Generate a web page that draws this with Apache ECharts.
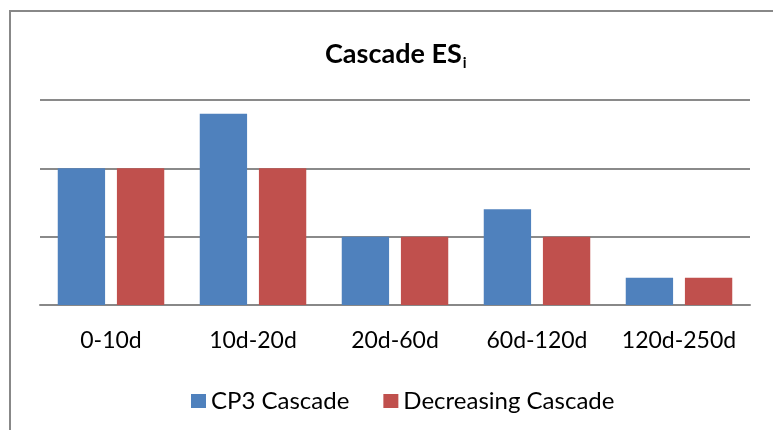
<!DOCTYPE html>
<html>
<head>
<meta charset="utf-8">
<script src="https://cdn.jsdelivr.net/npm/echarts@6/dist/echarts.min.js"></script>
<style>
  html,body{margin:0;padding:0;background:#fff;}
  #chart{width:773px;height:430px;}
</style>
</head>
<body>
<div id="chart"></div>
<script>
// data
var categories = ["0-10d", "10d-20d", "20d-60d", "60d-120d", "120d-250d"];
var cp3Cascade = [2, 2.8, 1, 1.4, 0.4];
var decreasingCascade = [2, 2, 1, 1, 0.4];

var myChart = echarts.init(document.getElementById("chart"));
myChart.setOption({
  animation: false,
  backgroundColor: "#fff",
  textStyle: { fontFamily: "Lato" },
  title: {
    text: "{a|Cascade ES}{b|i}",
    left: 320,
    top: 33,
    textStyle: {
      rich: {
        a: { fontFamily: "Lato", fontWeight: "bold", fontSize: 27, color: "#000" },
        b: { fontFamily: "Lato", fontWeight: "bold", fontSize: 15, color: "#000", padding: [18, 0, 0, 1] }
      }
    }
  },
  legend: {
    left: 186,
    top: 384,
    itemWidth: 15,
    itemHeight: 14,
    itemGap: 34,
    icon: "rect",
    textStyle: { fontFamily: "Lato", fontSize: 24, color: "#000" },
    data: ["CP3 Cascade", "Decreasing Cascade"]
  },
  grid: {
    left: 40,
    right: 23,
    top: 100,
    bottom: 125
  },
  xAxis: {
    type: "category",
    data: categories,
    axisTick: { show: false },
    axisLine: { lineStyle: { color: "#888", width: 2 } },
    axisLabel: { fontFamily: "Lato", fontSize: 23, color: "#000", margin: 24, interval: 0 }
  },
  yAxis: {
    type: "value",
    min: 0,
    max: 3,
    interval: 1,
    axisLabel: { show: false },
    axisLine: { show: false },
    axisTick: { show: false },
    splitLine: { lineStyle: { color: "#8a8a8a", width: 2 } }
  },
  series: [
    {
      name: "CP3 Cascade",
      type: "bar",
      data: cp3Cascade,
      barGap: "25%",
      barCategoryGap: "25%",
      itemStyle: { color: "#4F81BD" }
    },
    {
      name: "Decreasing Cascade",
      type: "bar",
      data: decreasingCascade,
      itemStyle: { color: "#C0504D" }
    }
  ],
  graphic: [
    {
      type: "rect",
      shape: { x: 10, y: 11, width: 900, height: 600 },
      style: { fill: null, stroke: "#888", lineWidth: 2 }
    }
  ]
});
</script>
</body>
</html>
